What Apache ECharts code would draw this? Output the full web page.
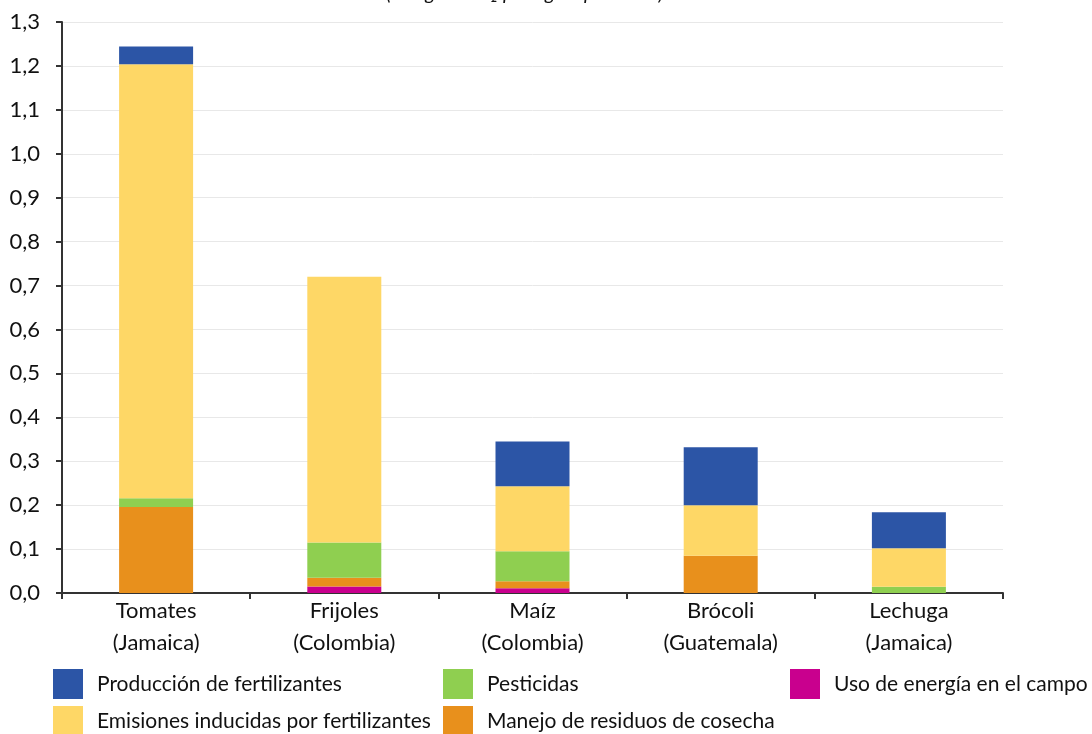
<!DOCTYPE html>
<html>
<head>
<meta charset="utf-8">
<script src="https://cdn.jsdelivr.net/npm/echarts@6/dist/echarts.min.js"></script>
<style>html,body{margin:0;padding:0;background:#fff;}#c{width:1092px;height:734px;}</style>
</head>
<body>
<div id="c"></div>
<script>
var categories = ['Tomates\n(Jamaica)', 'Frijoles\n(Colombia)', 'Maíz\n(Colombia)', 'Brócoli\n(Guatemala)', 'Lechuga\n(Jamaica)'];
var energia = [0, 0.015, 0.011, 0, 0];
var residuos = [0.196, 0.02, 0.016, 0.085, 0];
var pesticidas = [0.02, 0.08, 0.068, 0, 0.014];
var emisiones = [0.988, 0.605, 0.148, 0.115, 0.088];
var produccion = [0.04, 0, 0.102, 0.132, 0.082];
var seriesNames = ['Producción de fertilizantes', 'Pesticidas', 'Uso de energía en el campo', 'Emisiones inducidas por fertilizantes', 'Manejo de residuos de cosecha'];
var subtitle = '(en kg de CO\u2082 por kg de producto)';

var FONT = 'Lato, "Open Sans", sans-serif';
var colors = {
  'Producción de fertilizantes': '#2C55A6',
  'Pesticidas': '#8FCF50',
  'Uso de energía en el campo': '#C9008E',
  'Emisiones inducidas por fertilizantes': '#FED766',
  'Manejo de residuos de cosecha': '#E8901C'
};
function mk(name, data) {
  return { name: name, type: 'bar', stack: 'total', data: data, barWidth: 74,
    itemStyle: { color: colors[name] }, emphasis: { disabled: true } };
}
var legendPos = [
  { left: 53, top: 669 }, { left: 443, top: 669 }, { left: 790, top: 669 },
  { left: 53, top: 706 }, { left: 443, top: 706 }
];
var legends = seriesNames.map(function (n, i) {
  return { data: [n], left: legendPos[i].left, top: legendPos[i].top, padding: 0,
    itemWidth: 30, itemHeight: 30, icon: 'rect', selectedMode: false,
    textStyle: { fontFamily: FONT, fontSize: 21, color: '#111', padding: [0, 0, 0, 9] } };
});
var chart = echarts.init(document.getElementById('c'));
chart.setOption({
  animation: false,
  backgroundColor: '#fff',
  graphic: [{ type: 'text', x: 525, y: 4, style: { text: subtitle, x: 0, y: 0, textAlign: 'center', textVerticalAlign: 'bottom', font: 'italic 20px ' + FONT, fill: '#111' } }],
  legend: legends,
  grid: { left: 62, right: 89, top: 22, bottom: 141, containLabel: false },
  xAxis: {
    type: 'category', data: categories,
    axisLine: { lineStyle: { color: '#333', width: 2 } },
    axisTick: { show: true, length: 6, lineStyle: { color: '#333', width: 2 } },
    axisLabel: { fontFamily: FONT, fontSize: 22, color: '#111', lineHeight: 32, margin: 2 }
  },
  yAxis: {
    type: 'value', min: 0, max: 1.3, interval: 0.1,
    axisLine: { show: true, lineStyle: { color: '#333', width: 2 } },
    axisTick: { show: true, length: 6, lineStyle: { color: '#333', width: 2 } },
    splitLine: { lineStyle: { color: '#e8e8e8', width: 1 } },
    axisLabel: { fontFamily: FONT, fontSize: 22, color: '#111', margin: 22,
      formatter: function (v) { return v.toFixed(1).replace('.', ','); } }
  },
  series: [
    mk('Uso de energía en el campo', energia),
    mk('Manejo de residuos de cosecha', residuos),
    mk('Pesticidas', pesticidas),
    mk('Emisiones inducidas por fertilizantes', emisiones),
    mk('Producción de fertilizantes', produccion)
  ]
});
</script>
</body>
</html>
